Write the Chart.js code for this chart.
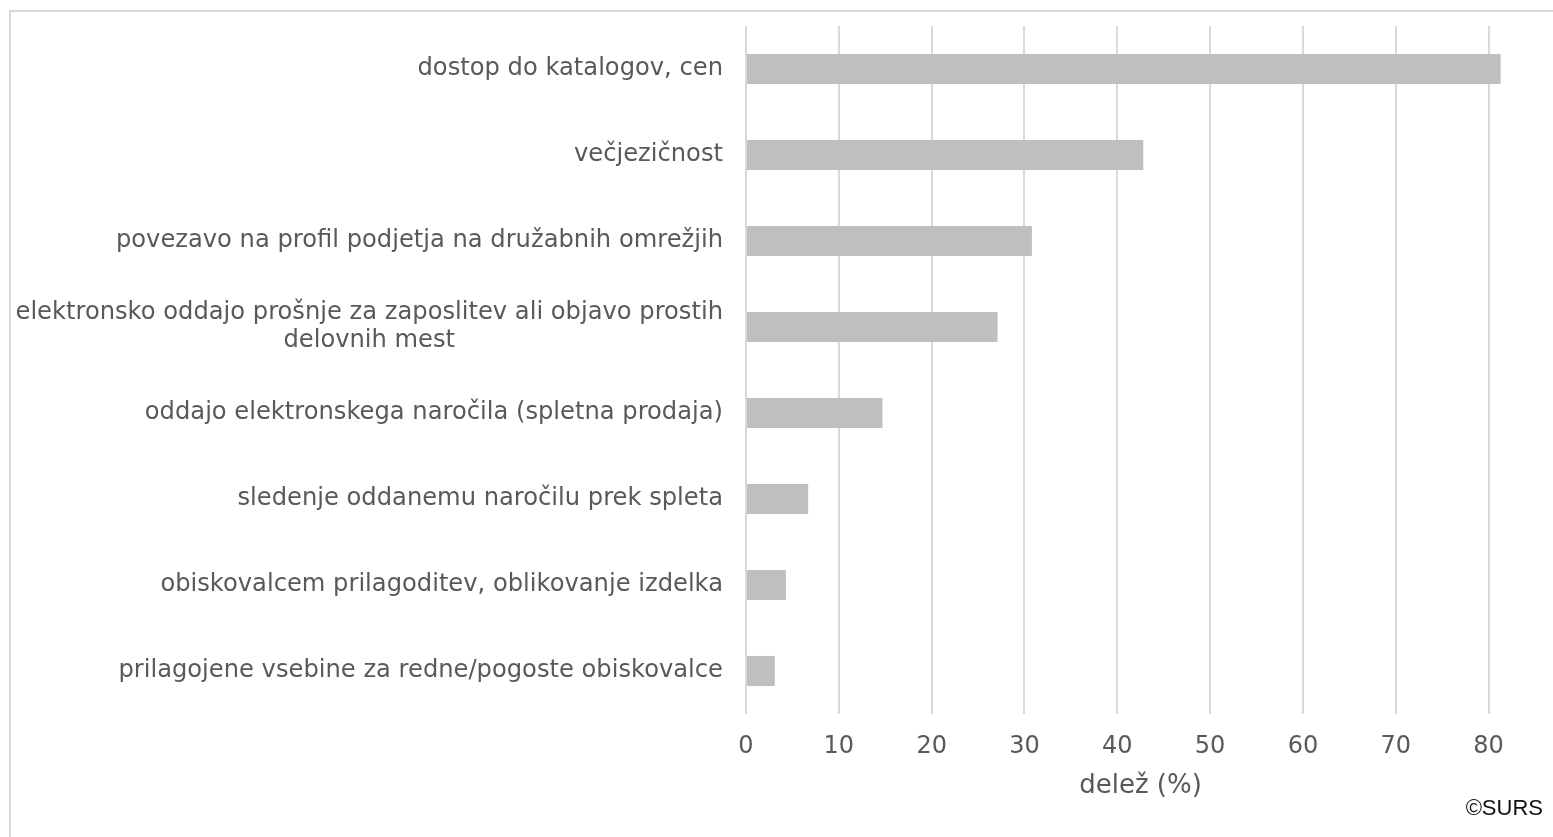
<!DOCTYPE html>
<html>
<head>
<meta charset="utf-8">
<script src="https://cdn.jsdelivr.net/npm/chart.js@4/dist/chart.umd.min.js"></script>
<style>
  body { margin: 0; background: #fff; }
  #wrap { position: relative; width: 1553px; height: 837px; overflow: hidden; }
  #frame { position: absolute; left: 9px; top: 10px; width: 1600px; height: 900px;
           border-left: 2px solid #d9d9d9; border-top: 2px solid #d9d9d9; }
  #c { position: absolute; left: 0; top: 0; }
  #src { position: absolute; right: 10px; top: 795px; line-height: 22px;
         font: 22px "Liberation Sans", Arial, sans-serif; color: #111; }
</style>
</head>
<body>
<div id="wrap">
  <div id="frame"></div>
  <canvas id="c" width="1553" height="837"></canvas>
  <div id="src">©SURS</div>
</div>
<script>
// kategorije (od zgoraj navzdol)
const categories = [
  "dostop do katalogov, cen",
  "večjezičnost",
  "povezavo na profil podjetja na družabnih omrežjih",
  ["elektronsko oddajo prošnje za zaposlitev ali objavo prostih", "delovnih mest"],
  "oddajo elektronskega naročila (spletna prodaja)",
  "sledenje oddanemu naročilu prek spleta",
  "obiskovalcem prilagoditev, oblikovanje izdelka",
  "prilagojene vsebine za redne/pogoste obiskovalce"
]
const shares = [81.3, 42.8, 30.8, 27.1, 14.7, 6.7, 4.3, 3.1]
const xTicks = [0, 10, 20, 30, 40, 50, 60, 70, 80]
const xMax = 85
const axisTitle = "delež (%)"

const textColor = "#595959"

// category labels: block right aligned, lines centered (Excel style)
const catLabels = {
    id: "catLabels",
    afterDraw(chart) {
        const ctx = chart.ctx
        const y = chart.scales.y
        const right = chart.chartArea.left - 23
        ctx.save()
        ctx.font = '24.2px "DejaVu Sans", Verdana, sans-serif'
        ctx.fillStyle = textColor
        ctx.textAlign = "center"
        ctx.textBaseline = "middle"
        categories.forEach((lab, i) => {
            const lines = Array.isArray(lab) ? lab : [lab]
            const w = Math.max(...lines.map(l => ctx.measureText(l).width))
            const cy = y.getPixelForTick(i)
            lines.forEach((l, j) => {
                ctx.fillText(l, right - w / 2, cy + (j - (lines.length - 1) / 2) * 28)
            })
        })
        ctx.restore()
    }
}

new Chart(document.getElementById("c"), {
    type: "bar",
    data: {
        labels: categories,
        datasets: [{
            data: shares,
            backgroundColor: "#bfbfbf",
            barPercentage: 0.35,
            categoryPercentage: 1
        }]
    },
    options: {
        indexAxis: "y",
        responsive: false,
        animation: false,
        layout: { padding: { top: 26, right: 18, left: 0, bottom: 0 } },
        plugins: { legend: { display: false }, tooltip: { enabled: false } },
        scales: {
            x: {
                min: 0,
                max: xMax,
                afterBuildTicks: (axis) => { axis.ticks = xTicks.map(v => ({ value: v })) },
                afterFit: (axis) => { axis.height = 123 },
                grid: { color: "#d9d9d9", lineWidth: 2, drawTicks: false },
                border: { display: false },
                ticks: { color: textColor, font: { family: "DejaVu Sans", size: 24 }, padding: 18 },
                title: {
                    display: true,
                    text: axisTitle,
                    color: textColor,
                    font: { family: "DejaVu Sans", size: 26 },
                    padding: { top: 0, bottom: 35 }
                }
            },
            y: {
                afterFit: (axis) => { axis.width = 746 },
                grid: { display: false },
                border: { display: false },
                ticks: { display: false }
            }
        }
    },
    plugins: [catLabels]
})
</script>
</body>
</html>
